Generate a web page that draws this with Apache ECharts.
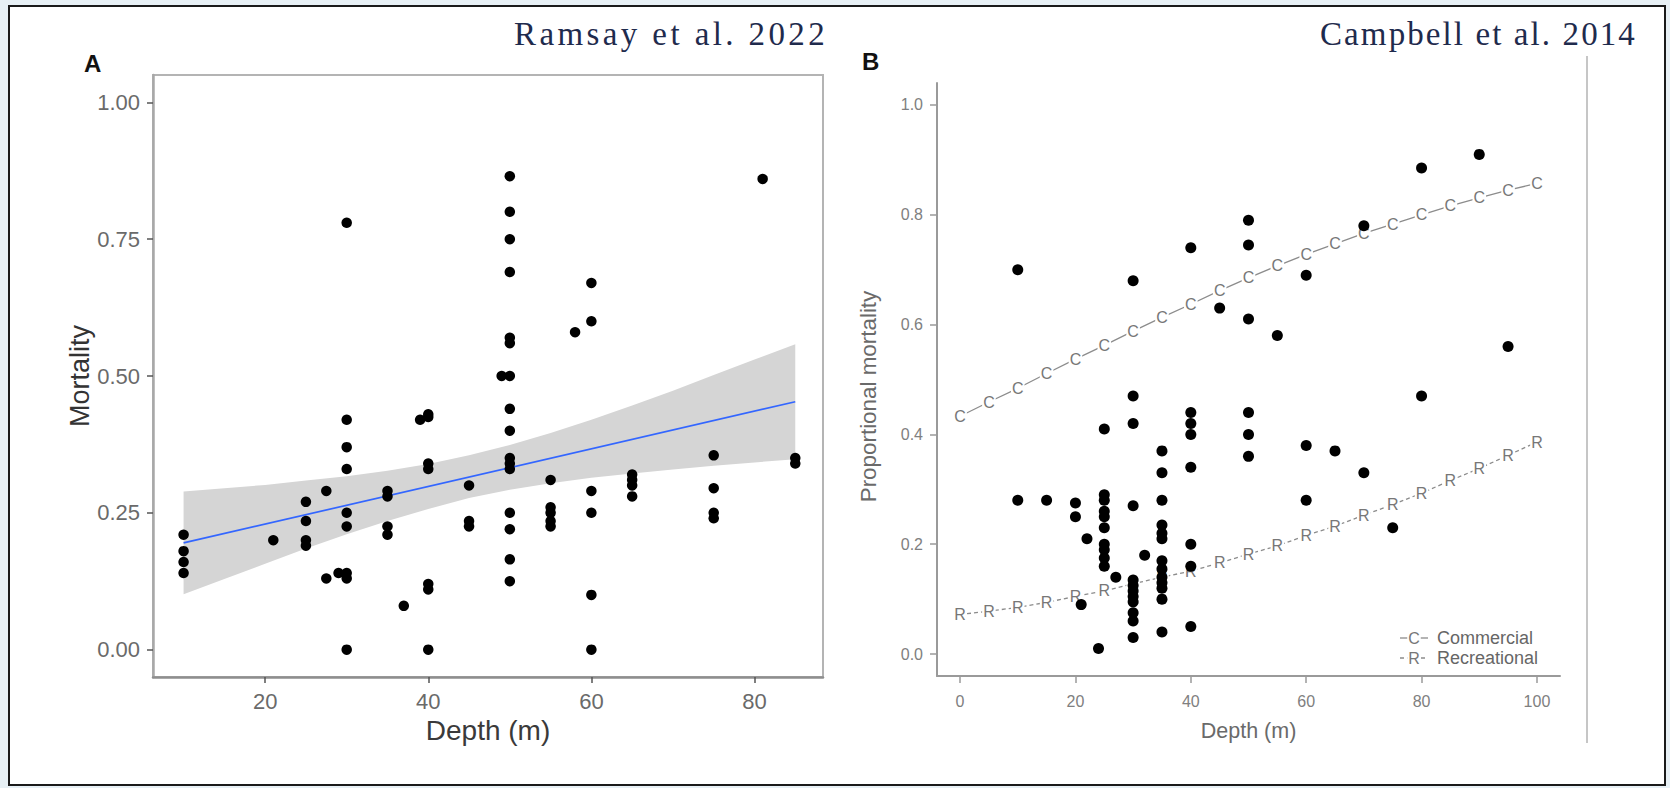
<!DOCTYPE html>
<html>
<head>
<meta charset="utf-8">
<script src="https://cdn.jsdelivr.net/npm/echarts@6/dist/echarts.min.js"></script>
<style>
html, body { margin: 0; padding: 0; background: #e7f0f5; }
#chart { width: 1670px; height: 788px; }
#chart text[style*="Liberation Serif"] { letter-spacing: 2.1px; }
#chart text[style*=", serif"] { letter-spacing: 3.4px; }
</style>
</head>
<body>
<div id="chart"></div>
<script>
// ---------- Panel A (Ramsay et al. 2022) ----------
const aDepth = [10,10,10,10, 21, 25,25,25,25, 27.5,27.5, 29,
  30,30,30,30,30,30,30,30,30, 35,35,35,35, 37, 39, 40,40,40,40,40,40,40,
  45,45,45, 49, 50,50,50,50,50,50,50,50,50,50,50,50,50,50,50,50,
  55,55,55,55,55, 58, 60,60,60,60,60,60, 65,65,65,65, 75,75,75,75, 81, 85,85];
const aMortality = [0.21,0.18,0.16,0.14, 0.20, 0.27,0.235,0.20,0.19, 0.29,0.13, 0.14,
  0.78,0.42,0.37,0.33,0.25,0.225,0.14,0.13,0.00, 0.29,0.28,0.225,0.21, 0.08, 0.42,
  0.425,0.43,0.34,0.33,0.12,0.11,0.00,
  0.30,0.235,0.225, 0.50, 0.865,0.80,0.75,0.69,0.57,0.56,0.50,0.44,0.40,0.35,0.34,0.33,0.25,0.22,0.165,0.125,
  0.31,0.26,0.25,0.235,0.225, 0.58, 0.67,0.60,0.29,0.25,0.10,0.00, 0.32,0.31,0.30,0.28,
  0.355,0.295,0.25,0.24, 0.86, 0.35,0.34];
const fitDepth = [10, 85];
const fitMortality = [0.195, 0.453];
const bandDepth = [10,15,20,25,30,35,40,45,50,55,60,65,70,75,80,85];
const bandLow  = [0.101,0.129,0.157,0.185,0.211,0.235,0.257,0.277,0.292,0.304,0.314,0.322,0.329,0.336,0.342,0.348];
const bandHigh = [0.289,0.295,0.301,0.309,0.317,0.327,0.339,0.355,0.374,0.396,0.420,0.446,0.473,0.502,0.530,0.558];
const aXTicks = [20, 40, 60, 80];
const aYTicks = [0, 0.25, 0.5, 0.75, 1];

// ---------- Panel B (Campbell et al. 2014) ----------
const bDepth = [10,10, 15, 20,20, 21, 22, 24, 25,25,25,25,25,25,25,25,25,25, 27,
  30,30,30,30,30,30,30,30,30,30,30,30, 32,
  35,35,35,35,35,35,35,35,35,35,35,35,35,
  40,40,40,40,40,40,40,40, 45, 50,50,50,50,50,50, 55, 60,60,60, 65, 70,70, 75, 80,80, 90, 95];
const bMortality = [0.70,0.28, 0.28, 0.275,0.25, 0.09, 0.21, 0.01,
  0.41,0.29,0.28,0.26,0.25,0.23,0.20,0.19,0.175,0.16, 0.14,
  0.68,0.47,0.42,0.27,0.135,0.125,0.115,0.105,0.095,0.075,0.06,0.03, 0.18,
  0.37,0.33,0.28,0.235,0.22,0.21,0.17,0.155,0.14,0.13,0.12,0.10,0.04,
  0.74,0.44,0.42,0.40,0.34,0.20,0.16,0.05, 0.63, 0.79,0.745,0.61,0.44,0.40,0.36, 0.58,
  0.69,0.38,0.28, 0.37, 0.78,0.33, 0.23, 0.885,0.47, 0.91, 0.56];
const curveDepth = [0,5,10,15,20,25,30,35,40,45,50,55,60,65,70,75,80,85,90,95,100];
const commercial = [0.433,0.459,0.484,0.511,0.537,0.562,0.588,0.613,0.637,0.662,0.685,0.707,0.728,0.747,0.766,0.783,0.800,0.816,0.831,0.845,0.857];
const recreational = [0.072,0.078,0.085,0.094,0.105,0.115,0.128,0.140,0.151,0.166,0.182,0.197,0.216,0.233,0.253,0.272,0.293,0.316,0.338,0.362,0.386];
const bXTicks = [0, 20, 40, 60, 80, 100];
const bYTicks = [0, 0.2, 0.4, 0.6, 0.8, 1.0];

const zip = (xs, ys) => xs.map((x, i) => [x, ys[i]]);
const SANS = 'Liberation Sans';

const chart = echarts.init(document.getElementById('chart'), null, { renderer: 'svg', width: 1670, height: 788 });

const option = {
  animation: false,
  backgroundColor: 'transparent',
  grid: [
    { left: 153, top: 75, width: 670, height: 602, show: true, borderColor: '#b4b4b4', borderWidth: 2, outerBoundsMode: 'none', containLabel: false },
    { left: 937, top: 83, width: 623, height: 593, show: false, outerBoundsMode: 'none', containLabel: false }
  ],
  xAxis: [
    {
      gridIndex: 0, type: 'value', min: 6.25, max: 88.4,
      axisLine: { show: true, onZero: false, lineStyle: { color: '#8e8e8e', width: 2.5 } },
      axisTick: { show: true, length: 6, customValues: aXTicks, lineStyle: { color: '#555', width: 1.5 } },
      axisLabel: { customValues: aXTicks, fontSize: 22, color: '#6a6a6a', margin: 13, fontFamily: SANS },
      splitLine: { show: false },
      name: 'Depth (m)', nameLocation: 'middle', nameGap: 39,
      nameTextStyle: { fontSize: 28, color: '#3a3a3a', fontFamily: SANS }
    },
    {
      gridIndex: 1, type: 'value', min: -4, max: 104,
      axisLine: { show: true, onZero: false, lineStyle: { color: '#9a9a9a', width: 2 } },
      axisTick: { show: true, length: 7, customValues: bXTicks, lineStyle: { color: '#9a9a9a', width: 1.5 } },
      axisLabel: { customValues: bXTicks, fontSize: 16, color: '#808080', margin: 17, fontFamily: SANS },
      splitLine: { show: false },
      name: 'Depth (m)', nameLocation: 'middle', nameGap: 44,
      nameTextStyle: { fontSize: 21.5, color: '#6a6a6a', fontFamily: SANS }
    }
  ],
  yAxis: [
    {
      gridIndex: 0, type: 'value', min: -0.05, max: 1.05,
      axisLine: { show: true, onZero: false, lineStyle: { color: '#a8a8a8', width: 2.5 } },
      axisTick: { show: true, length: 6, customValues: aYTicks, lineStyle: { color: '#555', width: 1.5 } },
      axisLabel: { customValues: aYTicks, fontSize: 22, color: '#6a6a6a', margin: 13, fontFamily: SANS,
        formatter: v => Number(v).toFixed(2) },
      splitLine: { show: false },
      name: 'Mortality', nameLocation: 'middle', nameGap: 58,
      nameTextStyle: { fontSize: 27, color: '#333', fontFamily: SANS }
    },
    {
      gridIndex: 1, type: 'value', min: -0.04, max: 1.04,
      axisLine: { show: true, onZero: false, lineStyle: { color: '#9a9a9a', width: 2 } },
      axisTick: { show: true, length: 7, customValues: bYTicks, lineStyle: { color: '#9a9a9a', width: 1.5 } },
      axisLabel: { customValues: bYTicks, fontSize: 16, color: '#808080', margin: 14, fontFamily: SANS,
        formatter: v => Number(v).toFixed(1) },
      splitLine: { show: false },
      name: 'Proportional mortality', nameLocation: 'middle', nameGap: 58,
      nameTextStyle: { fontSize: 22.4, color: '#6a6a6a', fontFamily: SANS, padding: [0, 34, 0, 0] }
    }
  ],
  series: [
    {
      type: 'custom', name: 'CI', xAxisIndex: 0, yAxisIndex: 0, z: 1,
      data: bandDepth.map((x, i) => [x, bandLow[i], bandHigh[i]]),
      encode: { x: 0, y: [1, 2] },
      renderItem: (params, api) => {
        if (params.dataIndexInside !== 0) return null;
        const upper = bandDepth.map((x, i) => api.coord([x, bandHigh[i]]));
        const lower = bandDepth.map((x, i) => api.coord([x, bandLow[i]])).reverse();
        return { type: 'polygon', shape: { points: upper.concat(lower) }, style: { fill: '#d5d5d5' } };
      },
      silent: true
    },
    {
      type: 'line', name: 'Fit', xAxisIndex: 0, yAxisIndex: 0, z: 3,
      data: zip(fitDepth, fitMortality), symbol: 'none',
      lineStyle: { color: '#3366ff', width: 1.7 }, silent: true
    },
    {
      type: 'scatter', name: 'Ramsay', xAxisIndex: 0, yAxisIndex: 0, z: 4,
      data: zip(aDepth, aMortality), symbol: 'circle', symbolSize: 10.5,
      itemStyle: { color: '#000', opacity: 1 }, silent: true
    },
    {
      type: 'line', name: 'Commercial', xAxisIndex: 1, yAxisIndex: 1, z: 2,
      data: zip(curveDepth, commercial), symbol: 'circle', symbolSize: 1, showAllSymbol: true,
      itemStyle: { color: 'rgba(0,0,0,0)' },
      lineStyle: { color: '#8c8c8c', width: 1.3, type: 'solid' },
      label: { show: true, position: 'inside', formatter: 'C', fontSize: 16, color: '#777',
        fontFamily: SANS, backgroundColor: '#fff', padding: [0, 1] },
      silent: true
    },
    {
      type: 'line', name: 'Recreational', xAxisIndex: 1, yAxisIndex: 1, z: 2,
      data: zip(curveDepth, recreational), symbol: 'circle', symbolSize: 1, showAllSymbol: true,
      itemStyle: { color: 'rgba(0,0,0,0)' },
      lineStyle: { color: '#8c8c8c', width: 1.3, type: [4, 3] },
      label: { show: true, position: 'inside', formatter: 'R', fontSize: 16, color: '#777',
        fontFamily: SANS, backgroundColor: '#fff', padding: [0, 1] },
      silent: true
    },
    {
      type: 'scatter', name: 'Campbell', xAxisIndex: 1, yAxisIndex: 1, z: 5,
      data: zip(bDepth, bMortality), symbol: 'circle', symbolSize: 11,
      itemStyle: { color: '#000', opacity: 1 }, silent: true
    }
  ],
  graphic: [
    { type: 'rect', z: -10, silent: true, shape: { x: 9, y: 6, width: 1656, height: 779 },
      style: { fill: '#ffffff', stroke: '#1a1a1a', lineWidth: 2 } },
    { type: 'text', x: 514, y: 34, silent: true,
      style: { text: 'Ramsay et al. 2022', fontSize: 33, fontFamily: 'Liberation Serif, serif', fill: '#1f2b4d', verticalAlign: 'middle', align: 'left' } },
    { type: 'text', x: 1320, y: 34, silent: true,
      style: { text: 'Campbell et al. 2014', fontSize: 33, fontFamily: 'Liberation Serif', fill: '#1f2b4d', verticalAlign: 'middle', align: 'left' } },
    { type: 'text', x: 84, y: 63, silent: true,
      style: { text: 'A', fontSize: 24, fontWeight: 'bold', fontFamily: SANS, fill: '#111', verticalAlign: 'middle', align: 'left' } },
    { type: 'text', x: 862, y: 61, silent: true,
      style: { text: 'B', fontSize: 24, fontWeight: 'bold', fontFamily: SANS, fill: '#111', verticalAlign: 'middle', align: 'left' } },
    { type: 'line', silent: true, shape: { x1: 1587, y1: 56, x2: 1587, y2: 743 },
      style: { stroke: '#c6c6c6', lineWidth: 2 } },
    // legend (panel B)
    { type: 'line', silent: true, shape: { x1: 1400, y1: 638, x2: 1428, y2: 638 }, style: { stroke: '#8c8c8c', lineWidth: 1.3 } },
    { type: 'text', x: 1414, y: 638, silent: true,
      style: { text: 'C', fontSize: 16, fontFamily: SANS, fill: '#777', align: 'center', verticalAlign: 'middle', backgroundColor: '#fff', padding: [0, 1] } },
    { type: 'text', x: 1437, y: 638, silent: true,
      style: { text: 'Commercial', fontSize: 18, fontFamily: SANS, fill: '#666', align: 'left', verticalAlign: 'middle' } },
    { type: 'line', silent: true, shape: { x1: 1400, y1: 658, x2: 1428, y2: 658 }, style: { stroke: '#8c8c8c', lineWidth: 1.3, lineDash: [4, 3] } },
    { type: 'text', x: 1414, y: 658, silent: true,
      style: { text: 'R', fontSize: 16, fontFamily: SANS, fill: '#777', align: 'center', verticalAlign: 'middle', backgroundColor: '#fff', padding: [0, 1] } },
    { type: 'text', x: 1437, y: 658, silent: true,
      style: { text: 'Recreational', fontSize: 18, fontFamily: SANS, fill: '#666', align: 'left', verticalAlign: 'middle' } }
  ]
};
chart.setOption(option);
</script>
</body>
</html>
